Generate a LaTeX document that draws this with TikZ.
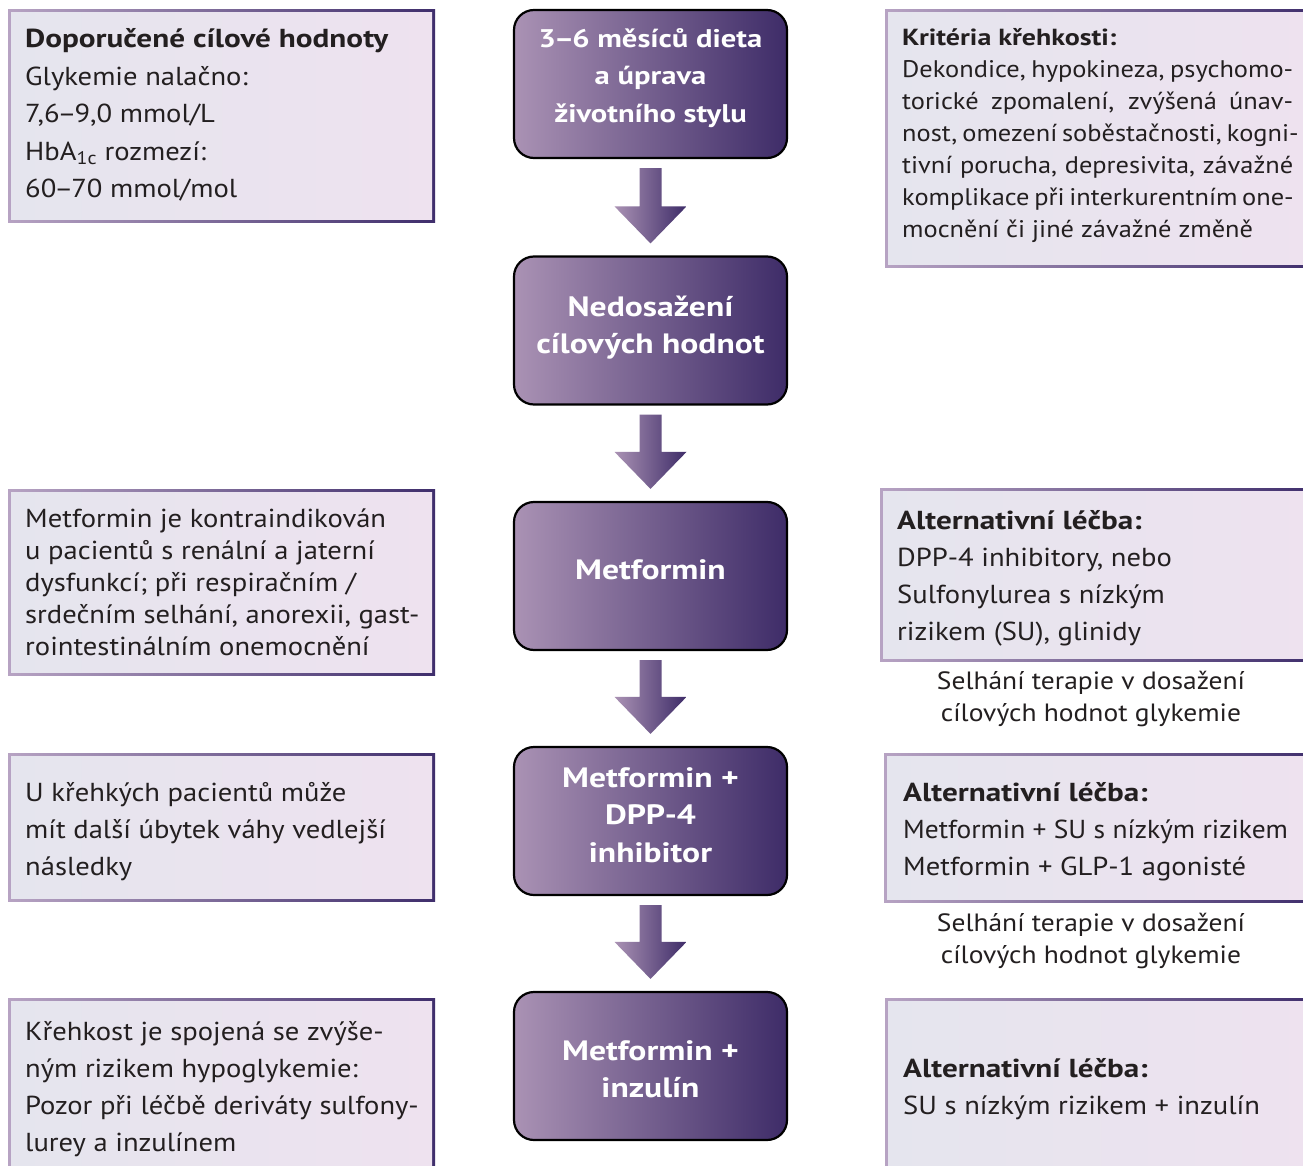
\documentclass[tikz,border=0pt]{standalone}
\usepackage{graphicx}
\usepackage{fontspec}
\setmainfont{PT Sans}[UprightFeatures={FakeStretch=1.1}, BoldFont={PT Sans Bold}, BoldFeatures={FakeStretch=1.2}]
\usetikzlibrary{calc}
\definecolor{cL}{RGB}{170,146,180}
\definecolor{cR}{RGB}{62,44,104}
\definecolor{bL}{RGB}{183,163,195}
\definecolor{bR}{RGB}{63,46,108}
\definecolor{fL}{RGB}{229,229,238}
\definecolor{fR}{RGB}{238,226,239}
\definecolor{txt}{RGB}{35,31,32}
\newcommand{\tdash}{\kern-2pt–\kern-2pt}
\newcommand{\sidebox}[4]{%
  \shade[left color=bL, right color=bR] (#1,#2) rectangle (#3,#4);
  \shade[left color=fL, right color=fR] (#1+3,#2+3) rectangle (#3-3,#4-3);}
\newcommand{\blockarrow}[2]{%
  \shade[left color=cL, right color=cR]
    ($(#1.south)+(-11,9)$) -- ($(#1.south)+(11,9)$) -- ($(#2.north)+(11,-49)$)
    -- ($(#2.north)+(36,-49)$) -- ($(#2.north)+(0,-12)$) -- ($(#2.north)+(-36,-49)$)
    -- ($(#2.north)+(-11,-49)$) -- cycle;}
\tikzset{
  cbox/.style={draw=black, line width=2.2pt, rounded corners=20pt, left color=cL, right color=cR,
    minimum width=273pt, minimum height=148pt, inner sep=0pt},
  ctext/.style={text=white, align=center, font=\fontsize{28}{37.5}\selectfont\bfseries, inner sep=0pt},
  stext/.style={text=txt, anchor=base west, inner sep=0pt},
  seltext/.style={text=txt, align=center, font=\fontsize{25}{32}\selectfont, inner sep=0pt}
}
\begin{document}
\begin{tikzpicture}[x=1pt,y=-1pt]
\useasboundingbox (0,0) rectangle (1303,1166);
\clip (0,0) rectangle (1303,1166);
\fill[white] (0,0) rectangle (1303,1166);

% side boxes
\sidebox{8}{10}{435}{223}
\sidebox{8}{489}{435}{675}
\sidebox{8}{753}{435}{901}
\sidebox{8}{998}{435}{1180}
\sidebox{885}{10}{1315}{268}
\sidebox{880}{488}{1315}{661}
\sidebox{884}{753}{1315}{902}
\sidebox{885}{998}{1315}{1180}

% center boxes
\node[cbox] (c1) at (650.5,84) {};
\node[cbox] (c2) at (650.5,330.5) {};
\node[cbox] (c3) at (650.5,576) {};
\node[cbox] (c4) at (650.5,821) {};
\node[cbox] (c5) at (650.5,1066) {};

\node[ctext, font=\fontsize{25.5}{37.5}\selectfont\bfseries] (c1t) at ($(c1.center)+(0,-6)$) {3\tdash6 měsíců dieta\\a úprava\\životního stylu};
\node[ctext] (c2t) at ($(c2.center)+(0,-3)$) {Nedosažení\\cílových hodnot};
\node[ctext] (c3t) at ($(c3.center)+(0,-6)$) {Metformin};
\node[ctext] (c4t) at ($(c4.center)+(0,-6)$) {Metformin +\\DPP-4\\inhibitor};
\node[ctext] (c5t) at ($(c5.center)+(0,3)$) {Metformin +\\inzulín};

\blockarrow{c1}{c2}
\blockarrow{c2}{c3}
\blockarrow{c3}{c4}
\blockarrow{c4}{c5}

% left texts
\node[stext] (l1t) at (25,48) {\parbox[t]{405pt}{\fontsize{26}{37.5}\selectfont\raggedright
  \textbf{Doporučené cílové hodnoty}\\Glykemie nalačno:\\7,6\tdash9,0 mmol/L\\HbA\textsubscript{1c} rozmezí:\\60\tdash70 mmol/mol}};
\node[stext] (l2t) at (25,527) {\parbox[t]{405pt}{\fontsize{26}{32}\selectfont\raggedright
  Metformin je kontraindikován\\u pacientů s renální a jaterní\\dysfunkcí; při respiračním /\\srdečním selhání, anorexii, gast-\\rointestinálním onemocnění}};
\node[stext] (l3t) at (25,801) {\parbox[t]{405pt}{\fontsize{26}{37}\selectfont\raggedright
  U křehkých pacientů může\\mít další úbytek váhy vedlejší\\následky}};
\node[stext] (l4t) at (25,1040) {\parbox[t]{405pt}{\fontsize{26}{37}\selectfont\raggedright
  Křehkost je spojená se zvýše-\\ným rizikem hypoglykemie:\\Pozor při léčbě deriváty sulfony-\\lurey a inzulínem}};

% right texts
\node[stext] (r1t) at (902,46) {\parbox[t]{400pt}{\fontsize{24}{32}\selectfont\raggedright
  {\fontsize{23.3}{32}\selectfont\textbf{Kritéria křehkosti:}}\\
  \makebox[391pt][s]{Dekondice, hypokineza, psychomo-}\\
  \makebox[391pt][s]{torické zpomalení, zvýšená únav-}\\
  \makebox[391pt][s]{nost, omezení soběstačnosti, kogni-}\\
  \makebox[391pt][s]{tivní porucha, depresivita, závažné}\\
  \makebox[391pt][s]{komplikace při interkurentním one-}\\
  mocnění či jiné závažné změně}};
\node[stext] (r2t) at (897,529) {\parbox[t]{400pt}{\fontsize{26}{37}\selectfont\raggedright
  \textbf{Alternativní léčba:}\\DPP-4 inhibitory, nebo\\Sulfonylurea s nízkým\\rizikem (SU), glinidy}};
\node[stext] (r3t) at (903,801) {\parbox[t]{400pt}{\fontsize{26}{37}\selectfont\raggedright
  \textbf{Alternativní léčba:}\\\scalebox{0.96}[1]{Metformin + SU s nízkým rizikem}\\Metformin + GLP-1 agonisté}};
\node[stext] (r4t) at (903,1077) {\parbox[t]{400pt}{\fontsize{26}{37}\selectfont\raggedright
  \textbf{Alternativní léčba:}\\SU s nízkým rizikem + inzulín}};

\node[seltext] (s1) at (1091,699) {Selhání terapie v dosažení\\cílových hodnot glykemie};
\node[seltext] (s2) at (1091,941) {Selhání terapie v dosažení\\cílových hodnot glykemie};
\end{tikzpicture}
\end{document}
